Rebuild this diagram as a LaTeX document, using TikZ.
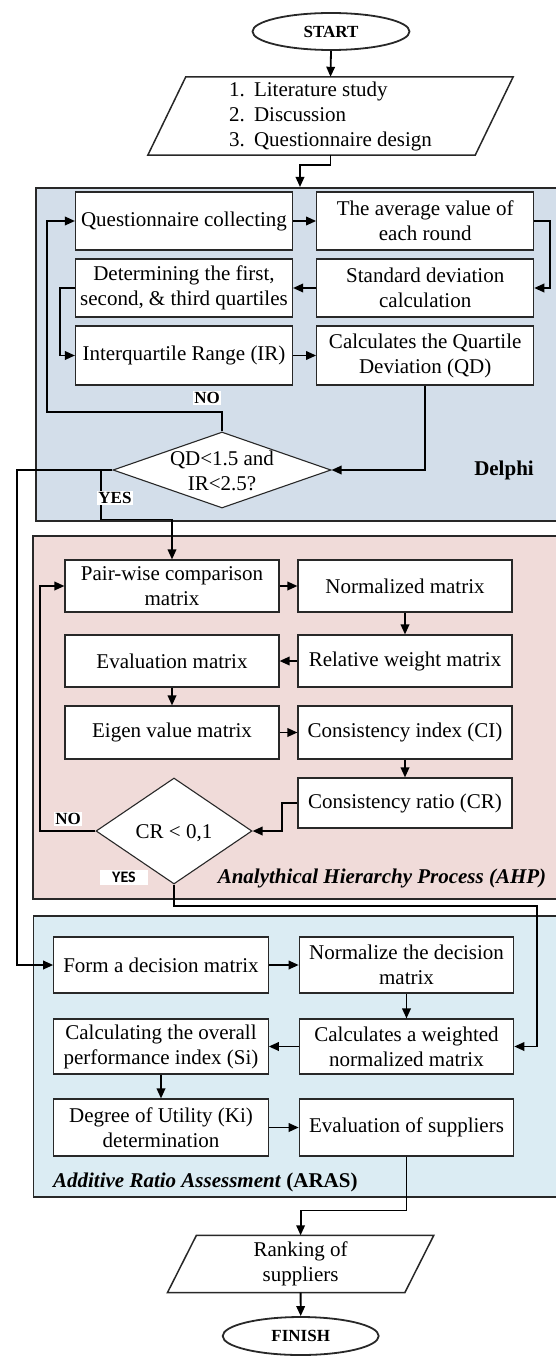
\documentclass[tikz,border=0pt]{standalone}
\usepackage{fontspec}
\setmainfont{Liberation Serif}
\newfontfamily\yessans{Carlito}
\usetikzlibrary{arrows.meta,shapes.geometric}
\definecolor{delphiC}{RGB}{211,222,234}
\definecolor{ahpC}{RGB}{240,219,217}
\definecolor{arasC}{RGB}{219,236,243}
\definecolor{edgeC}{RGB}{40,40,40}
\begin{document}
\begin{tikzpicture}[x=1pt,y=-1pt,
  cont/.style={draw=edgeC,line width=1.6pt,anchor=north west,inner sep=0pt},
  proc/.style={draw=edgeC,fill=white,line width=1.1pt,inner sep=0pt,align=center,
    font=\fontsize{21}{25}\selectfont},
  procD/.style={proc,minimum width=217pt},
  procA/.style={proc,minimum width=214pt},
  procR/.style={proc,minimum width=214.5pt},
  term/.style={ellipse,draw=edgeC,line width=1.8pt,fill=white,inner sep=0pt,
    minimum width=157pt,minimum height=37pt,font=\fontsize{17}{20}\selectfont\bfseries},
  io/.style={draw=edgeC,line width=1.5pt},
  dec/.style={diamond,draw=edgeC,fill=white,line width=1.1pt,inner sep=0pt},
  arr/.style={line width=1.8pt,-{Triangle[length=10pt,width=8.5pt]}},
  lbl/.style={font=\fontsize{17}{20}\selectfont\bfseries,fill=white,inner sep=1pt},
  sect/.style={font=\fontsize{21}{25}\selectfont\bfseries},
  txt/.style={font=\fontsize{21}{25}\selectfont,align=center}
]
\useasboundingbox (0,0) rectangle (556,1356);

% containers
\node[cont,fill=delphiC,minimum width=525pt,minimum height=333pt] (delphi) at (35,187) {};
\node[cont,fill=ahpC,minimum width=528pt,minimum height=363pt] (ahp) at (32,535) {};
\node[cont,fill=arasC,minimum width=528pt,minimum height=281pt] (aras) at (32.6,915) {};

% start and input
\node[term] (start) at (331,31.5) {START};
\node[inner sep=0pt,minimum width=327pt,minimum height=78pt,align=left,
  font=\fontsize{21}{25}\selectfont] (inp) at (330.5,116)
  {\makebox[25pt][l]{1.}Literature study\\\makebox[25pt][l]{2.}Discussion\\\makebox[25pt][l]{3.}Questionnaire design};
\draw[io] ([xshift=19pt]inp.north west) -- ([xshift=19pt]inp.north east)
  -- ([xshift=-19pt]inp.south east) -- ([xshift=-19pt]inp.south west) -- cycle;

% Delphi
\node[procD,minimum height=58pt] (q1) at (184,221) {Questionnaire collecting};
\node[procD,minimum height=58pt] (avg) at (425.2,221) {The average value of\\each round};
\node[procD,minimum height=58pt] (det) at (184,288) {Determining the first,\\second, \& third quartiles};
\node[procD,minimum height=58pt] (std) at (425.2,288) {Standard deviation\\calculation};
\node[procD,minimum height=59pt] (ir) at (184,355.5) {Interquartile Range (IR)};
\node[procD,minimum height=59pt] (qd) at (425.2,355.5) {Calculates the Quartile\\Deviation (QD)};
\node[dec,minimum width=218pt,minimum height=76pt] (d1) at (222,470) {};
\node[txt] (d1t) at (222,471) {QD<1.5 and\\IR<2.5?};
\node[sect] (delphiL) at (504,470) {Delphi};

% AHP
\node[procA,minimum height=52pt] (pw) at (172,586) {Pair-wise comparison\\matrix};
\node[procA,minimum height=52pt] (nm) at (405,586) {Normalized matrix};
\node[procA,minimum height=52pt] (ev) at (172,661) {Evaluation matrix};
\node[procA,minimum height=52pt] (rw) at (405,661) {Relative weight matrix};
\node[procA,minimum height=53pt] (eig) at (172,732.5) {Eigen value matrix};
\node[procA,minimum height=53pt] (ci) at (405,732.5) {Consistency index (CI)};
\node[procA,minimum height=50pt] (cr) at (405,803) {Consistency ratio (CR)};
\node[dec,minimum width=156pt,minimum height=106pt] (d2) at (174,831) {};
\node[txt] (d2t) at (174,833) {CR < 0,1};
\node[sect,font=\fontsize{21}{25}\selectfont\bfseries\itshape] (ahpL) at (382,878) {Analythical Hierarchy Process (AHP)};

% ARAS
\node[procR,minimum height=56pt] (form) at (161,965) {Form a decision matrix};
\node[procR,minimum height=56pt] (nd) at (406.5,965) {Normalize the decision\\matrix};
\node[procR,minimum height=55pt] (calc) at (161,1046.5) {Calculating the overall\\performance index (Si)};
\node[procR,minimum height=55pt] (wt) at (406.5,1046.5) {Calculates a weighted\\normalized matrix};
\node[procR,minimum height=57pt] (deg) at (161,1127.5) {Degree of Utility (Ki)\\determination};
\node[procR,minimum height=57pt] (evs) at (406.5,1127.5) {Evaluation of suppliers};
\node[sect,anchor=west] (arasL) at (49.6,1182) {\textit{Additive Ratio Assessment} (ARAS)};

% end
\node[inner sep=0pt,minimum width=237pt,minimum height=57pt,txt] (rank) at (300.6,1264) {Ranking of\\suppliers};
\draw[io] ([xshift=14.5pt]rank.north west) -- ([xshift=14.5pt]rank.north east)
  -- ([xshift=-14.5pt]rank.south east) -- ([xshift=-14.5pt]rank.south west) -- cycle;
\node[term,minimum width=156pt,minimum height=38pt] (finish) at (300.7,1336) {FINISH};

% coordinates for bends
\coordinate (dIn) at (300,187);
\coordinate (noD) at (47,412);
\coordinate (yL) at (17,470);
\coordinate (yB) at (101,470);
\coordinate (noA) at (40,831);
\coordinate (yR) at (537,906);

% connectors
\draw[arr] (start.south) -- (inp.north);
\draw[arr] (inp.south) -- ++(0,10) -| (dIn);
\draw[arr] (q1.east) -- (avg.west);
\draw[arr] (avg.east) -- ++(16,0) |- (std.east);
\draw[arr] (std.west) -- (det.east);
\draw[arr] (det.west) -- ++(-15,0) |- (ir.west);
\draw[arr] (ir.east) -- (qd.west);
\draw[arr] (qd.south) |- (d1.east);
\draw[arr] (d1.north) |- (noD) |- (q1.west);
\draw[arr] (d1.west) -- (yL) |- (form.west);
\draw[arr] (yB) |- ([yshift=40pt]pw.north) -- (pw.north);

\draw[arr] (pw.east) -- (nm.west);
\draw[arr] (nm.south) -- (rw.north);
\draw[arr] (rw.west) -- (ev.east);
\draw[arr] (ev.south) -- (eig.north);
\draw[arr] (eig.east) -- (ci.west);
\draw[arr] (ci.south) -- (cr.north);
\draw[arr] (cr.west) -- ++(-15.4,0) |- (d2.east);
\draw[arr] (d2.west) -- (noA) |- (pw.west);
\draw[arr] (d2.south) |- (yR) |- (wt.east);

\draw[arr] (form.east) -- (nd.west);
\draw[arr] (nd.south) -- (wt.north);
\draw[arr] (wt.west) -- (calc.east);
\draw[arr] (calc.south) -- (deg.north);
\draw[arr] (deg.east) -- (evs.west);
\draw[arr] (evs.south) -- ++(0,54) -| (rank.north);
\draw[arr] (rank.south) -- (finish.north);

% branch labels
\node[lbl] (noDL) at (207,398) {NO};
\node[lbl] (yesDL) at (115,498) {YES};
\node[lbl] (noAL) at (68,819) {NO};
\node[fill=white,inner sep=0pt,minimum width=48pt,minimum height=15pt,
  font=\yessans\fontsize{16}{18}\selectfont\bfseries] (yesAL) at (124,877.5) {YES};
\end{tikzpicture}
\end{document}
